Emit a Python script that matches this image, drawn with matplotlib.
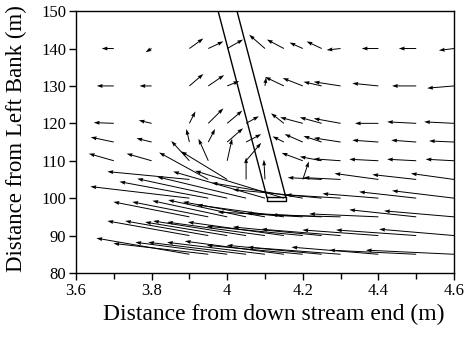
import numpy as np
import matplotlib
matplotlib.use("Agg")
import matplotlib.pyplot as plt
from matplotlib.ticker import MultipleLocator

nan = np.nan

# measurement columns (m) and rows (m)
x_cols = [3.7, 3.8, 3.9, 3.95, 4.0, 4.05, 4.1, 4.15, 4.2, 4.25, 4.3, 4.4, 4.5, 4.6]
y_rows = [140, 130, 120, 115, 110, 105, 100, 95, 90, 85]

# velocity components per row (u along x, v along y, plotted in data units)
u140 = [-0.032, -0.016, 0.037, 0.040, 0.042, nan, -0.042, -0.045, -0.035, -0.040, -0.037, -0.044, -0.046, -0.040]
v140 = [0.0, -1.0, 2.7, 1.9, 2.4, nan, 3.7, 2.4, 1.6, 1.9, -0.4, 0.0, 0.0, -0.5]
u130 = [-0.045, -0.032, 0.037, 0.042, 0.032, nan, 0.003, -0.050, -0.053, -0.048, -0.071, -0.069, -0.064, -0.071]
v130 = [0.0, 0.0, 3.2, 2.9, 1.3, nan, 2.3, 2.4, 2.1, 1.1, 1.1, 0.7, 0.0, -0.6]
u120 = [-0.053, -0.034, 0.016, 0.040, 0.040, 0.034, nan, -0.034, -0.060, -0.058, -0.071, -0.062, -0.077, -0.079]
v120 = [0.2, 0.8, 3.2, 4.0, 3.4, 1.9, nan, 2.7, 1.6, 1.6, 1.3, 0.0, 0.4, 0.4]
u115 = [-0.061, -0.040, -0.008, 0.018, 0.042, 0.040, nan, -0.030, -0.048, -0.048, -0.071, -0.069, -0.066, -0.066]
v115 = [1.3, 1.0, 3.5, 3.5, 3.7, 2.1, nan, 1.5, 2.1, 1.6, 1.1, 0.5, 0.5, 0.3]
u110 = [-0.066, -0.066, -0.048, -0.026, 0.013, 0.040, nan, nan, -0.056, -0.058, -0.071, -0.077, -0.077, -0.075]
v110 = [1.9, 1.9, 5.3, 5.9, 5.9, 4.8, nan, nan, 2.1, 1.1, 0.5, 0.4, 0.4, 0.4]
u105 = [nan, nan, -0.217, -0.130, -0.122, 0.0, -0.003, nan, 0.016, -0.090, -0.098, -0.116, -0.116, -0.114]
v105 = [nan, nan, 2.1, 7.2, 7.5, 5.9, 5.3, nan, 4.8, 0.5, 0.5, 1.6, 1.3, 1.6]
u100 = [nan, nan, -0.262, -0.235, -0.238, -0.235, -0.243, -0.235, -0.241, -0.235, -0.145, -0.148, -0.151, -0.164]
v100 = [nan, nan, 3.1, 4.4, 5.2, 5.7, 7.1, 7.3, 4.1, 2.3, 0.9, 1.2, 1.7, 2.0]
u95 = [nan, nan, -0.201, -0.201, -0.198, -0.206, -0.217, -0.230, -0.225, -0.200, -0.183, -0.183, -0.177, -0.185]
v95 = [nan, nan, 4.0, 4.0, 4.3, 4.5, 4.0, 3.2, 1.3, 1.0, 0.5, 0.8, 1.9, 1.6]
u90 = [nan, nan, -0.217, -0.220, -0.217, -0.246, -0.259, -0.254, -0.254, -0.235, -0.210, -0.201, -0.212, -0.198]
v90 = [nan, nan, 3.9, 3.9, 3.6, 3.9, 3.6, 3.6, 2.5, 2.3, 1.7, 1.5, 1.5, 1.7]
u85 = [nan, nan, -0.246, -0.251, -0.243, -0.259, -0.259, -0.262, -0.254, -0.251, -0.246, -0.230, -0.230, -0.233]
v85 = [nan, nan, 4.3, 2.9, 3.2, 3.2, 3.2, 3.5, 2.4, 2.4, 1.9, 1.9, 1.1, 1.1]

# groyne outline
groyne_left_x = [3.976, 4.105]
groyne_right_x = [4.026, 4.155]
groyne_y = [150, 100.3]
tip_x = [4.105, 4.105, 4.155, 4.155, 4.105]
tip_y = [100.3, 99.3, 99.3, 100.3, 100.3]

U = np.array([u140, u130, u120, u115, u110, u105, u100, u95, u90, u85])
V = np.array([v140, v130, v120, v115, v110, v105, v100, v95, v90, v85])
X, Y = np.meshgrid(x_cols, y_rows)
ok = ~np.isnan(U)

plt.rcParams['font.family'] = ['Liberation Serif', 'DejaVu Serif']

fig = plt.figure(figsize=(4.69, 3.37), dpi=100)
ax = fig.add_axes([0.162, 0.190, 0.806, 0.777])

ax.quiver(X[ok], Y[ok], U[ok], V[ok], angles='xy', scale_units='xy', scale=1,
          width=0.0026, headwidth=4, headlength=6, headaxislength=5.5,
          color='black', pivot='tail')

ax.plot(groyne_left_x, groyne_y, color='black', lw=1)
ax.plot(groyne_right_x, groyne_y, color='black', lw=1)
ax.plot(tip_x, tip_y, color='black', lw=1)

ax.set_xlim(3.6, 4.6)
ax.set_ylim(80, 150)
ax.xaxis.set_minor_locator(MultipleLocator(0.1))
ax.yaxis.set_major_locator(MultipleLocator(10))
ax.set_xticks([3.6, 3.8, 4.0, 4.2, 4.4, 4.6])
ax.set_xticklabels(['3.6', '3.8', '4', '4.2', '4.4', '4.6'])
ax.tick_params(axis='both', which='major', labelsize=12, direction='out', length=5, width=1, pad=2)
ax.tick_params(axis='x', which='minor', direction='out', length=4, width=1)
for s in ax.spines.values():
    s.set_linewidth(1)

ax.set_xlabel('Distance from down stream end (m)', fontsize=17)
ax.set_ylabel('Distance from Left Bank (m)', fontsize=16.5)
ax.xaxis.set_label_coords(0.522, -0.118)
ax.yaxis.set_label_coords(-0.129, 0.515)

fig.savefig('out.png', dpi=100)
